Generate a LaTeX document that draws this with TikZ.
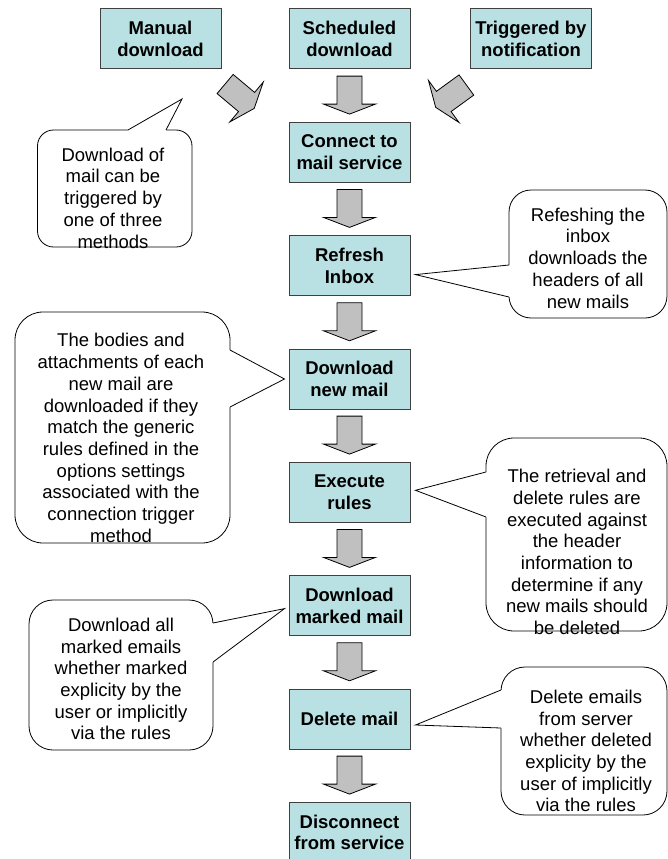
\documentclass[tikz,border=0pt]{standalone}
\usepackage{fontspec}
\setmainfont{Liberation Sans}
\usetikzlibrary{calc}

\definecolor{stepcyan}{RGB}{185,224,226}
\definecolor{arrowgray}{RGB}{192,192,192}

\tikzset{
  stepbox/.style={draw=black!75, line width=1pt, fill=stepcyan, minimum width=121pt, minimum height=60pt,
    inner sep=1pt, align=center, font=\fontsize{18.5pt}{21.7pt}\selectfont\bfseries},
  notebox/.style={draw=black, line width=0.8pt, fill=white},
  notetext/.style={align=center, inner sep=0pt, font=\fontsize{18.5pt}{21.7pt}\selectfont},
  blockarrow/.style={draw=black, line width=0.8pt, fill=arrowgray, line join=miter}
}

\begin{document}
\begin{tikzpicture}[x=1pt,y=-1pt]
\useasboundingbox (0,0) rectangle (668,859);
%---------------------------------------------------
\node[stepbox] (manual)     at (160.5,39)    {Manual\\download};
\node[stepbox] (sched)      at (349.5,39)    {Scheduled\\download};
\node[stepbox] (notified)   at (531,39)      {Triggered by\\notification};
\node[stepbox] (connect)    at (349.5,152.3) {Connect to\\mail service};
\node[stepbox] (refresh)    at (349.5,265.6) {Refresh\\Inbox};
\node[stepbox] (newmail)    at (349.5,379)   {Download\\new mail};
\node[stepbox] (rules)      at (349.5,492.3) {Execute\\rules};
\node[stepbox] (marked)     at (349.5,605.6) {Download\\marked mail};
\node[stepbox] (delete)     at (349.5,719)   {Delete mail};
\node[stepbox] (disconnect) at (349.5,832.3) {Disconnect\\from service};
%---------------------------------------------------
\foreach \b in {connect,refresh,newmail,rules,marked,delete,disconnect}
  \draw[blockarrow] ([yshift=7.7pt]\b.north) -- ++(-26,-10) -- ++(13.5,0) -- ++(0,-28)
    -- ++(25,0) -- ++(0,28) -- ++(13.5,0) -- cycle;
\begin{scope}[shift={(225.1,84)}, rotate=50]
\draw[blockarrow] (-12.5,0) -- (12.5,0) -- (12.5,28) -- (26,28) -- (0,38) -- (-26,28) -- (-12.5,28) -- cycle;
\end{scope}
\begin{scope}[shift={(466.4,85)}, rotate=-54]
\draw[blockarrow] (-12.5,0) -- (12.5,0) -- (12.5,28) -- (26,28) -- (0,38) -- (-26,28) -- (-12.5,28) -- cycle;
\end{scope}
%---------------------------------------------------
\coordinate (triggertip) at (182,99);
\coordinate (refreshtip) at ([xshift=5pt,yshift=-9pt]refresh.east);
\coordinate (newmailtip) at ([xshift=-4pt]newmail.west);
\coordinate (rulestip)   at ([xshift=5pt,yshift=2pt]rules.east);
\coordinate (markedtip)  at ([xshift=-4pt,yshift=-3pt]marked.west);
\coordinate (deletetip)  at ([xshift=5pt,yshift=-6pt]delete.east);
%---------------------------------------------------
\draw[notebox, rounded corners=16pt] (37.5,130) rectangle (192,247);
\fill[white] (128,133) -- (128,130) -- (triggertip) -- (166,130) -- (166,133) -- cycle;
\draw[notebox] (128,130) -- (triggertip) -- (166,130);

\draw[notebox, rounded corners=22pt] (509,190) rectangle (667,318);
\fill[white] (512,265) -- (509,265) -- (refreshtip) -- (509,297) -- (512,297) -- cycle;
\draw[notebox] (509,265) -- (refreshtip) -- (509,297);

\draw[notebox, rounded corners=28pt] (15,312) rectangle (230,543);
\fill[white] (227,350) -- (230,350) -- (newmailtip) -- (230,407) -- (227,407) -- cycle;
\draw[notebox] (230,350) -- (newmailtip) -- (230,407);

\draw[notebox, rounded corners=28pt] (486,438) rectangle (667,631);
\fill[white] (489,472) -- (486,472) -- (rulestip) -- (486,517) -- (489,517) -- cycle;
\draw[notebox] (486,472) -- (rulestip) -- (486,517);

\draw[notebox, rounded corners=24pt] (29,600) rectangle (213,750);
\fill[white] (210,623) -- (213,623) -- (markedtip) -- (213,662) -- (210,662) -- cycle;
\draw[notebox] (213,623) -- (markedtip) -- (213,662);

\draw[notebox, rounded corners=24pt] (501,667) rectangle (667,815);
\fill[white] (504,690) -- (501,690) -- (deletetip) -- (501,728) -- (504,728) -- cycle;
\draw[notebox] (501,690) -- (deletetip) -- (501,728);
%---------------------------------------------------
\node[notetext] (triggernote) at (113,198) {Download of\\mail can be\\triggered by\\one of three\\methods};
\node[notetext] (refreshnote) at (588,258) {Refeshing the\\inbox\\downloads the\\headers of all\\new mails};
\node[notetext] (newmailnote) at (121,438) {The bodies and\\attachments of each\\new mail are\\downloaded if they\\match the generic\\rules defined in the\\options settings\\associated with the\\connection trigger\\method};
\node[notetext] (rulesnote)   at (577,552) {The retrieval and\\delete rules are\\executed against\\the header\\information to\\determine if any\\new mails should\\be deleted};
\node[notetext] (markednote)  at (121,679) {Download all\\marked emails\\whether marked\\explicity by the\\user or implicitly\\via the rules};
\node[notetext] (deletenote)  at (586,751) {Delete emails\\from server\\whether deleted\\explicity by the\\user of implicitly\\via the rules};

\end{tikzpicture}
\end{document}
